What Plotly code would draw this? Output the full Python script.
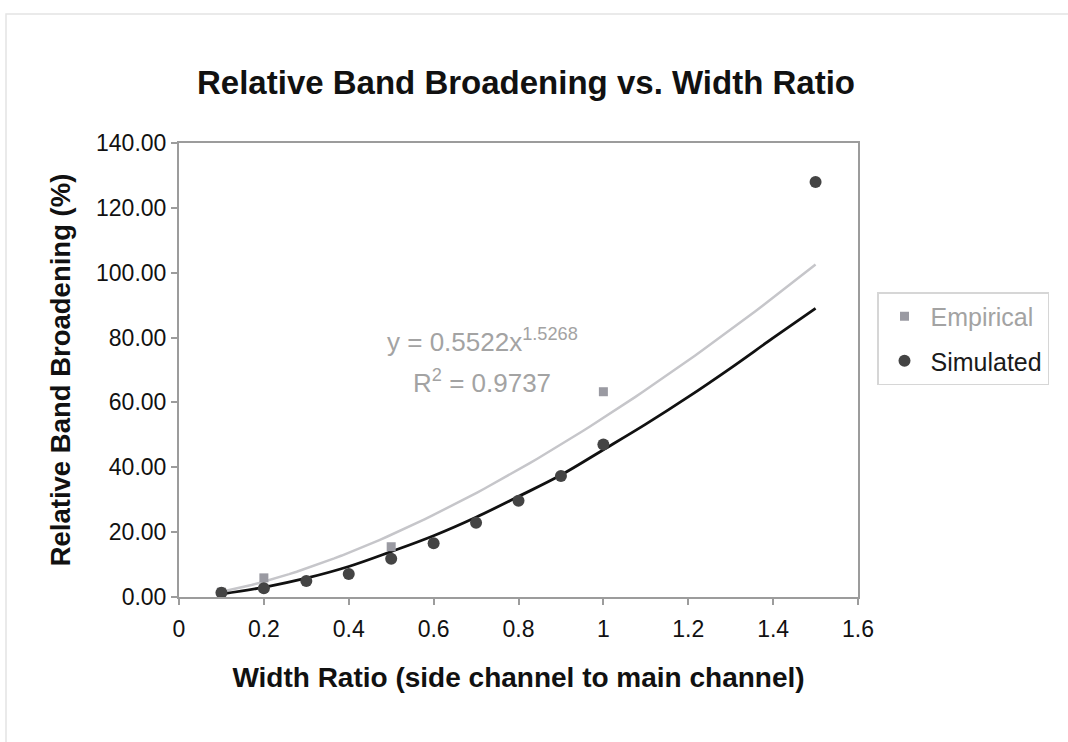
import numpy as np
import plotly.graph_objects as go

# Measured relative band broadening (%)
emp_x = [0.1, 0.2, 0.5, 1.0]
emp_y = [1.5, 5.9, 15.5, 63.3]

# Simulated relative band broadening (%)
sim_x = [0.1, 0.2, 0.3, 0.4, 0.5, 0.6, 0.7, 0.8, 0.9, 1.0, 1.5]
sim_y = [1.3, 2.7, 4.9, 7.1, 11.8, 16.6, 22.9, 29.7, 37.3, 47.0, 128.0]

# Curve drawn through the simulated results
sim_curve_x = [0.1, 0.2, 0.3, 0.4, 0.5, 0.6, 0.7, 0.8, 0.9, 1.0, 1.1, 1.2, 1.3, 1.4, 1.5]
sim_curve_y = [0.9, 3.0, 5.8, 9.4, 14.0, 18.9, 24.6, 31.0, 37.6, 45.4, 53.3, 61.7, 70.6, 79.9, 89.0]

# Power-law trendline of the empirical data (fit on fractional values)
fit_a = 0.5522
fit_b = 1.5268
fit_r2 = 0.9737

x_ticks = [0, 0.2, 0.4, 0.6, 0.8, 1, 1.2, 1.4, 1.6]
x_tick_text = ["0", "0.2", "0.4", "0.6", "0.8", "1", "1.2", "1.4", "1.6"]
y_ticks = [0, 20, 40, 60, 80, 100, 120, 140]

FONT = "Liberation Sans, Arial, sans-serif"
GREY_TXT = "#a3a3a3"
INK = "#111111"

W, H = 1068, 742
L, R, T, B = 179, 210, 143, 145
pw, ph = W - L - R, H - T - B


def px_x(px):
    return (px - L) / pw


def px_y(py):
    return (H - B - py) / ph


fit_x = np.linspace(0.1, 1.5, 80)
fit_y = 100 * fit_a * fit_x ** fit_b

fig = go.Figure()

fig.add_trace(go.Scatter(
    x=fit_x, y=fit_y, mode="lines",
    line=dict(color="#c6c6ca", width=2.5),
    showlegend=False, hoverinfo="skip"))

fig.add_trace(go.Scatter(
    x=sim_curve_x, y=sim_curve_y, mode="lines",
    line=dict(color="#111111", width=2.8, shape="spline"),
    showlegend=False, hoverinfo="skip"))

fig.add_trace(go.Scatter(
    x=emp_x, y=emp_y, mode="markers", legendgroup="emp",
    name=f"<span style='color:{GREY_TXT}'>Empirical</span>",
    marker=dict(symbol="square", size=9, color="#9a9aa2")))

fig.add_trace(go.Scatter(
    x=sim_x, y=sim_y, mode="markers", legendgroup="sim",
    name="<span style='color:#1a1a1a'>Simulated</span>",
    marker=dict(symbol="circle", size=12, color="#444444")))

# trendline equation
fig.add_annotation(
    x=px_x(482), y=px_y(340), xref="paper", yref="paper",
    text=f"y = {fit_a}x<sup>{fit_b}</sup>", showarrow=False,
    font=dict(family=FONT, size=26, color=GREY_TXT))
fig.add_annotation(
    x=px_x(482), y=px_y(381), xref="paper", yref="paper",
    text=f"R<sup>2</sup> = {fit_r2}", showarrow=False,
    font=dict(family=FONT, size=26, color=GREY_TXT))

# faint outer chart border
fig.add_shape(type="rect", xref="paper", yref="paper",
              x0=px_x(6), x1=px_x(1080), y0=px_y(760), y1=px_y(14),
              line=dict(color="#e4e4e4", width=1.5), layer="below")

fig.update_layout(
    width=W, height=H, autosize=False,
    margin=dict(l=L, r=R, t=T, b=B),
    paper_bgcolor="white", plot_bgcolor="white",
    font=dict(family=FONT, size=18, color=INK),
    title=dict(text="<b>Relative Band Broadening vs. Width Ratio</b>",
               x=526 / W, xanchor="center", y=1 - 82 / H, yanchor="middle",
               font=dict(family=FONT, size=33, color=INK)),
    legend=dict(x=px_x(877), y=px_y(292), xanchor="left", yanchor="top",
                bordercolor="#d6d6d6", borderwidth=1.5, bgcolor="white",
                font=dict(family=FONT, size=25, color=INK),
                tracegroupgap=9, itemwidth=42),
    showlegend=True,
)

fig.update_xaxes(
    range=[0, 1.6], tickvals=x_ticks, ticktext=x_tick_text,
    showgrid=False, zeroline=False,
    showline=True, linecolor="#9c9c9c", linewidth=2, mirror=True,
    ticks="outside", ticklen=6, tickcolor="#9c9c9c", tickwidth=1.5,
    ticklabelstandoff=4,
    tickfont=dict(family=FONT, size=23, color=INK),
    title=dict(text="<b>Width Ratio (side channel to main channel)</b>",
               font=dict(family=FONT, size=28, color=INK), standoff=27))

fig.update_yaxes(
    range=[0, 140], tickvals=y_ticks, tickformat=".2f",
    showgrid=False, zeroline=False,
    showline=True, linecolor="#9c9c9c", linewidth=2, mirror=True,
    ticks="outside", ticklen=6, tickcolor="#9c9c9c", tickwidth=1.5,
    tickfont=dict(family=FONT, size=23, color=INK),
    title=dict(text="<b>Relative Band Broadening (%)</b>",
               font=dict(family=FONT, size=27.5, color=INK), standoff=17))

fig.write_html("out.html")
